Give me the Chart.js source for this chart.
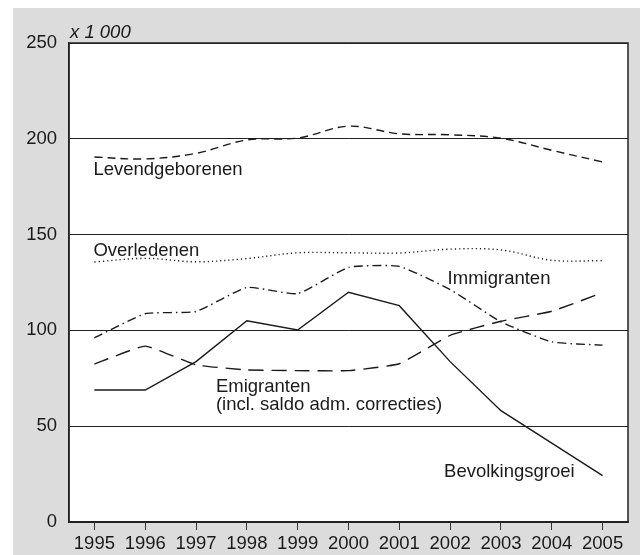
<!DOCTYPE html>
<html>
<head>
<meta charset="utf-8">
<script src="https://cdn.jsdelivr.net/npm/chart.js@4"></script>
<style>
  html, body { margin: 0; padding: 0; background: #fff; }
  #wrap { width: 640px; height: 555px; }
</style>
</head>
<body>
<div id="wrap"><canvas id="chart" width="640" height="555"></canvas></div>
<script>
const years = ['1995', '1996', '1997', '1998', '1999', '2000', '2001', '2002', '2003', '2004', '2005'];

// values x 1 000
const levendgeborenen = [190.5, 189.5, 192.4, 199.4, 200.4, 206.6, 202.6, 202.1, 200.3, 194.0, 187.9];
const overledenen     = [135.7, 137.6, 135.8, 137.5, 140.5, 140.5, 140.4, 142.4, 142.0, 136.6, 136.4];
const immigranten     = [96.1, 108.7, 109.9, 122.4, 119.2, 132.9, 133.4, 121.3, 104.5, 94.0, 92.3];
const emigranten      = [82.4, 91.8, 82.0, 79.4, 79.0, 79.0, 82.6, 97.4, 104.8, 110.0, 119.7];
const groei           = [68.9, 68.9, 83.7, 105.0, 100.2, 119.9, 112.9, 83.7, 58.1, 41.2, 24.2];

const yTicks = [0, 50, 100, 150, 200, 250];

// text labels placed in data units: [category index, value, text]
const notes = [
  [0, 181, 'Levendgeborenen'],
  [0, 138.8, 'Overledenen'],
  [6.97, 124.2, 'Immigranten'],
  [2.41, 68, 'Emigranten'],
  [2.41, 58.5, '(incl. saldo adm. correcties)'],
  [6.9, 23.5, 'Bevolkingsgroei']
];

const FONT = '"Liberation Sans", Arial, Helvetica, sans-serif';
const INK = '#1a1a1a';

const panel = {
  id: 'panel',
  beforeDraw(chart) {
    const { ctx, chartArea: a } = chart;
    ctx.save();
    ctx.fillStyle = '#fff';
    ctx.fillRect(0, 0, chart.width, chart.height);
    ctx.fillStyle = '#dcdcdc';
    ctx.fillRect(13, 8, chart.width - 13, chart.height - 8);
    ctx.fillStyle = '#fff';
    ctx.fillRect(a.left, a.top, a.right - a.left, a.bottom - a.top);
    ctx.restore();
  },
  afterDatasetsDraw(chart) {
    const { ctx, chartArea: a, scales } = chart;
    ctx.save();
    ctx.strokeStyle = '#222';
    ctx.lineWidth = 1.5;
    ctx.strokeRect(a.left, a.top, a.right - a.left, a.bottom - a.top);

    ctx.fillStyle = INK;
    ctx.font = 'italic 18.5px ' + FONT;
    ctx.textAlign = 'left';
    ctx.textBaseline = 'alphabetic';
    ctx.fillText('x 1 000', a.left + 1, a.top - 5);

    ctx.font = '18.5px ' + FONT;
    notes.forEach(([i, v, t]) => {
      ctx.fillText(t, scales.x.getPixelForValue(i) - 1, scales.y.getPixelForValue(v));
    });
    ctx.restore();
  }
};

new Chart(document.getElementById('chart'), {
  type: 'line',
  data: {
    labels: years,
    datasets: [
      { label: 'Levendgeborenen', data: levendgeborenen, borderDash: [8, 5], tension: 0.35 },
      { label: 'Overledenen', data: overledenen, borderDash: [1.2, 3], tension: 0.35 },
      { label: 'Immigranten', data: immigranten, borderDash: [9, 4, 1.5, 4], tension: 0.15 },
      { label: 'Emigranten', data: emigranten, borderDash: [15, 8], tension: 0.12 },
      { label: 'Bevolkingsgroei', data: groei, tension: 0 }
    ].map(d => Object.assign({
      borderColor: INK,
      borderWidth: 1.4,
      pointRadius: 0,
      pointHoverRadius: 0,
      fill: false
    }, d))
  },
  options: {
    responsive: false,
    animation: false,
    layout: { padding: { left: 13, top: 43, right: 12, bottom: 0 } },
    plugins: {
      legend: { display: false },
      tooltip: { enabled: false }
    },
    scales: {
      x: {
        offset: true,
        grid: {
          offset: false,
          drawOnChartArea: false,
          drawTicks: true,
          tickLength: 8,
          color: '#333'
        },
        border: { display: true, color: '#222', width: 1.5 },
        ticks: { color: INK, font: { family: FONT, size: 18.5 }, padding: 3, maxRotation: 0, autoSkip: false },
        afterFit(s) { s.height = 33; }
      },
      y: {
        min: 0,
        max: 250,
        afterBuildTicks(s) { s.ticks = yTicks.map(v => ({ value: v })); },
        grid: {
          drawTicks: false,
          color: '#222',
          lineWidth: 1
        },
        border: { display: true, color: '#222', width: 1.5 },
        ticks: { color: INK, font: { family: FONT, size: 18.5 }, padding: 12 },
        afterFit(s) { s.width = 56; }
      }
    }
  },
  plugins: [panel]
});
</script>
</body>
</html>
